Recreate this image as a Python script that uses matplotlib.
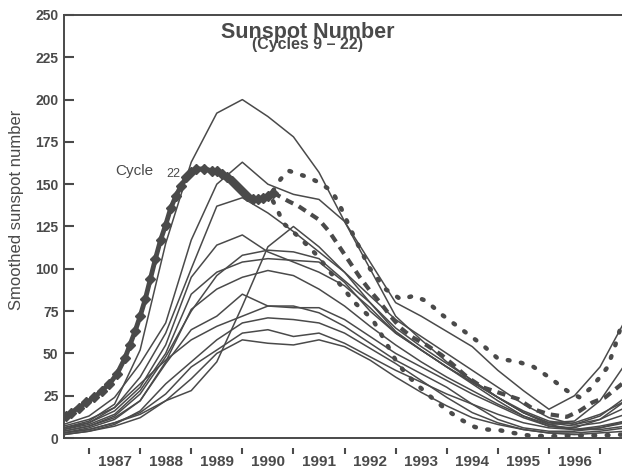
import numpy as np
import matplotlib.pyplot as plt

# half-year grid shared by the thin cycle curves (cycles 9-21, aligned at minimum)
years = [1986.5, 1987.0, 1987.5, 1988.0, 1988.5, 1989.0, 1989.5, 1990.0, 1990.5,
         1991.0, 1991.5, 1992.0, 1992.5, 1993.0, 1993.5, 1994.0, 1994.5, 1995.0,
         1995.5, 1996.0, 1996.5, 1997.0, 1997.5]

cyc_a = [6, 10, 20, 52, 115, 163, 192, 200, 190, 178, 157, 128, 100, 72, 58, 45, 34, 24, 15, 9, 10, 22, 44]
cyc_b = [8, 13, 24, 44, 68, 117, 150, 163, 150, 144, 141, 128, 104, 80, 72, 63, 54, 40, 28, 17, 25, 42, 70]
cyc_c = [5, 9, 18, 36, 62, 100, 137, 142, 133, 122, 110, 98, 84, 70, 60, 50, 40, 30, 20, 12, 8, 11, 18]
cyc_d = [3, 5, 9, 14, 22, 28, 45, 78, 113, 125, 113, 98, 80, 63, 52, 42, 32, 22, 13, 7, 6, 11, 22]
cyc_e = [6, 9, 16, 30, 55, 95, 114, 120, 110, 104, 98, 90, 77, 62, 52, 42, 33, 24, 15, 9, 7, 9, 14]
cyc_f = [4, 7, 13, 26, 48, 75, 96, 108, 111, 110, 106, 93, 80, 65, 54, 44, 34, 24, 15, 8, 5, 6, 9]
cyc_g = [5, 8, 14, 28, 50, 85, 98, 104, 106, 105, 104, 92, 75, 62, 52, 42, 33, 24, 16, 10, 8, 13, 24]
cyc_h = [4, 7, 12, 22, 45, 76, 88, 95, 99, 96, 88, 78, 66, 55, 45, 36, 28, 20, 13, 8, 9, 14, 22]
cyc_i = [3, 6, 11, 22, 44, 64, 72, 85, 78, 77, 77, 70, 60, 50, 42, 34, 26, 19, 12, 7, 5, 7, 10]
cyc_j = [7, 11, 18, 32, 46, 58, 66, 72, 78, 78, 74, 66, 56, 46, 38, 30, 20, 11, 6, 4, 4, 6, 10]
cyc_k = [2, 4, 8, 16, 32, 45, 58, 68, 71, 70, 68, 62, 53, 44, 34, 24, 15, 9, 5, 3, 3, 4, 6]
cyc_l = [3, 5, 9, 15, 26, 42, 52, 62, 64, 60, 62, 56, 48, 40, 33, 26, 20, 14, 9, 6, 5, 5, 7]
cyc_m = [2, 4, 7, 12, 22, 35, 50, 58, 56, 55, 58, 54, 46, 36, 27, 19, 12, 8, 5, 3, 2, 3, 4]

# cycle 22 observed values
c22_x = [1986.55, 1986.65, 1986.8, 1986.95, 1987.1, 1987.25, 1987.4, 1987.55, 1987.7,
         1987.8, 1987.9, 1988.0, 1988.1, 1988.2, 1988.3, 1988.4, 1988.5, 1988.6, 1988.7,
         1988.8, 1988.9, 1989.0, 1989.1, 1989.25, 1989.4, 1989.5, 1989.6, 1989.7, 1989.8,
         1989.9, 1990.0, 1990.1, 1990.2, 1990.3, 1990.4, 1990.5, 1990.6]
c22_y = [13, 15, 18, 21, 24, 28, 32, 38, 47, 55, 63, 72, 82, 94, 106, 117, 126, 136, 143,
         149, 154, 157, 159, 159, 158, 158, 156, 154, 152, 149, 146, 143, 141, 141, 142, 143, 145]

# upper dotted, lower dotted and dashed continuations
upper_x = [1990.6, 1990.75, 1990.9, 1991.1, 1991.3, 1991.5, 1991.75, 1991.9, 1992.2, 1992.5,
           1992.8, 1993.1, 1993.35, 1993.6, 1993.9, 1994.3, 1994.7, 1995.0, 1995.4, 1995.7,
           1996.0, 1996.35, 1996.6, 1996.8, 1997.0, 1997.15, 1997.3, 1997.43]
upper_y = [146, 153, 158, 156, 154, 151, 146, 138, 118, 100, 88, 82, 84, 81, 73, 64, 55, 47,
           45, 42, 36, 28, 24, 29, 36, 42, 55, 68]
lower_x = [1990.6, 1990.7, 1990.8, 1991.1, 1991.3, 1991.46, 1991.8, 1992.2, 1992.55, 1992.8,
           1993.0, 1993.2, 1993.4, 1993.7, 1994.0, 1994.3, 1994.55, 1994.8, 1995.05, 1995.3,
           1995.6, 1996.0, 1996.5, 1997.0, 1997.43]
lower_y = [140, 134, 127, 119, 113, 108, 95, 80, 70, 57, 46, 38, 32, 24, 16.5, 10.5, 6.5, 5,
           4.5, 3, 1.5, 1, 1.5, 1.5, 2]
mean_x = [1990.6, 1990.9, 1991.1, 1991.3, 1991.5, 1991.7, 1991.9, 1992.1, 1992.3, 1992.5,
          1992.7, 1992.9, 1993.1, 1993.3, 1993.6, 1993.9, 1994.1, 1994.4, 1994.7, 1995.0,
          1995.4, 1995.7, 1996.0, 1996.35, 1996.6, 1996.85, 1997.1, 1997.43]
mean_y = [145, 140, 137, 133, 129, 122, 113, 104, 95, 87, 80, 72, 65, 60, 55, 49, 44, 36, 30,
          27, 23, 17, 14, 12.5, 16, 21, 24, 32]

year_ticks = list(range(1987, 1998))
year_labels = [str(y) for y in range(1987, 1997)]

ink = '#4a4a4a'
plt.rcParams['font.family'] = ['Liberation Sans', 'DejaVu Sans']

fig = plt.figure(figsize=(6.22, 4.72), dpi=100)
ax = fig.add_axes([64 / 622, 1 - 438 / 472, 1 - 64 / 622, 423 / 472])

for ys in [cyc_a, cyc_b, cyc_c, cyc_d, cyc_e, cyc_f, cyc_g, cyc_h, cyc_i, cyc_j, cyc_k, cyc_l, cyc_m]:
    ax.plot(years, ys, color=ink, lw=1.1)

ax.plot(upper_x, upper_y, color=ink, lw=3.2, linestyle=(0, (0.4, 2.6)), dash_capstyle='round')
ax.plot(lower_x, lower_y, color=ink, lw=3.2, linestyle=(0, (0.4, 2.6)), dash_capstyle='round')
ax.plot(mean_x, mean_y, color=ink, lw=3.0, linestyle=(0, (2.0, 1.5)))
ax.plot(c22_x, c22_y, color=ink, lw=3.5, marker='D', ms=5.5)

ax.set_xlim(1986.51, 1997.43)
ax.set_ylim(0, 250)

ax.spines['right'].set_visible(False)
for s in ['top', 'left', 'bottom']:
    ax.spines[s].set_color(ink)
    ax.spines[s].set_linewidth(1.4)

ax.set_yticks(range(0, 251, 25))
ax.tick_params(axis='y', direction='in', length=7, width=1.5, color=ink, pad=4,
               labelsize=10, labelcolor=ink)
for t in ax.get_yticklabels():
    t.set_fontweight('bold')

ax.set_xticks([y + 0.5 for y in range(1987, 1997)])
ax.set_xticklabels(year_labels)
ax.tick_params(axis='x', length=0, pad=12, labelsize=11, labelcolor=ink)
for t in ax.get_xticklabels():
    t.set_fontweight('bold')

sec = ax.secondary_xaxis(-0.024)
sec.set_xticks(year_ticks)
sec.set_xticklabels([])
sec.tick_params(direction='out', length=4, width=1.5, color=ink)
sec.spines['bottom'].set_visible(False)

ax.set_ylabel('Smoothed sunspot number', fontsize=12, color=ink)
ax.yaxis.set_label_coords(-0.072, 0.54)

fig.text(0.495, 0.932, 'Sunspot Number', ha='center', va='center', fontsize=15.5,
         fontweight='bold', color=ink)
fig.text(0.495, 0.905, '(Cycles 9 \u2013 22)', ha='center', va='center', fontsize=11.5,
         fontweight='bold', color=ink)

ax.text(1987.88, 158, 'Cycle', ha='center', va='center', fontsize=11, color=ink)
ax.text(1988.64, 156, '22', ha='center', va='center', fontsize=9, color=ink)

fig.savefig('out.png', dpi=100)
